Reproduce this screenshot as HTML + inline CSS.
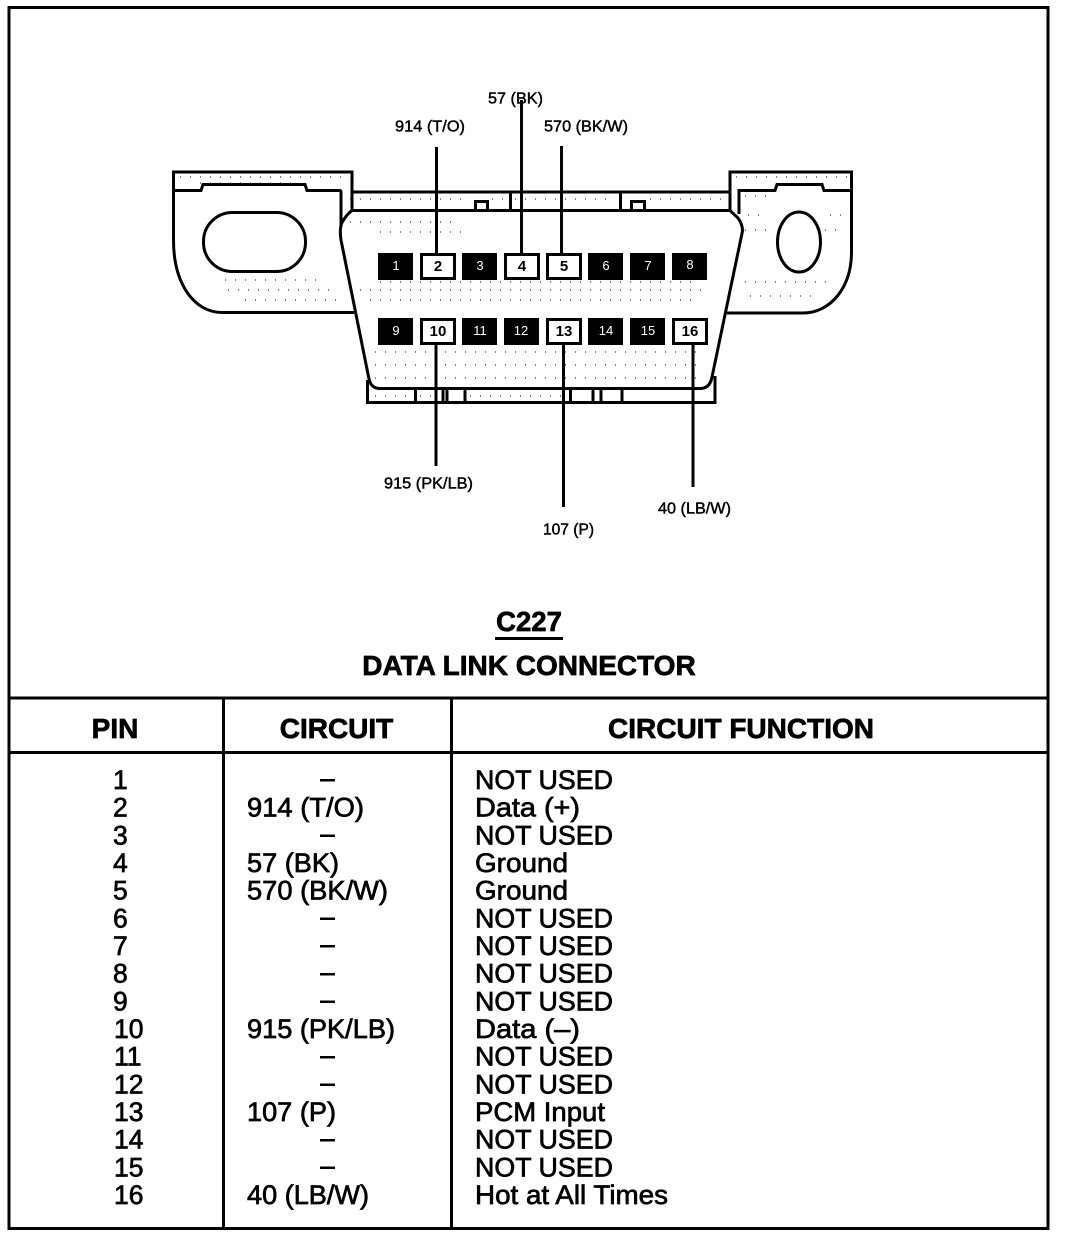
<!DOCTYPE html>
<html><head><meta charset="utf-8">
<style>
html,body{margin:0;padding:0;background:#fff;width:1072px;height:1238px;overflow:hidden}
svg{display:block}
text{font-family:"Liberation Sans",sans-serif;fill:#000}
.l{font-size:16px;stroke:#000;stroke-width:.45}
.t{font-size:26.5px;stroke:#000;stroke-width:.7}
.h{font-size:28px;font-weight:bold;stroke:#000;stroke-width:.7;text-anchor:middle}
.pw{font-size:15px;font-weight:bold;text-anchor:middle}
.pb{font-size:13px;fill:#fff;text-anchor:middle}
.k{fill:none;stroke:#000;stroke-width:3}
.d2{fill:none;stroke:#000;stroke-width:1;stroke-dasharray:1 9}
</style></head><body>
<svg width="1072" height="1238" viewBox="0 0 1072 1238" xmlns="http://www.w3.org/2000/svg">
<rect width="1072" height="1238" fill="#fff"/>

<!-- Frame and table lines -->
<rect x="9" y="7.500" width="1039" height="1221" class="k"/>
<path d="M9 698H1048M9 752.500H1048M223.500 698V1229M451.500 698V1229" class="k"/>

<!-- Stipple -->
<g>
<path d="M180 177H346M200 183H300M350 199H470M492 199H505M515 199H615M650 199H728M736 177H848M745 196H770" class="d2"/>
<path d="M225 280H320M228 290H330M245 300H340M350 222H460M380 232H470M350 290H710M370 300H700M375 352H700M375 365H700M375 378H700M745 282H830M750 296H820M748 215H760M830 215H845M745 230H770M825 230H845" class="d2"/>
<path d="M380 282H700M375 396H410M420 396H440M470 396H565" class="d2"/>
</g>

<!-- Left ear -->
<path d="M352 212V172H173.500V240C173.500 285 195 312.500 222 312.500H354" class="k"/>
<path d="M173 190.500H201L203 184.500H305L307 190.500H339.500Q341 190.500 341 192V227" class="k"/>
<rect x="203.500" y="212.500" width="102" height="59" rx="29" class="k"/>

<!-- Right ear -->
<path d="M730 212V172H851.500V252C851.500 288 830 313 803 313H727" class="k"/>
<path d="M739 214V190.500H775L777 184.500H822L824 190.500H851" class="k"/>
<ellipse cx="799" cy="242" rx="21.500" ry="30" class="k"/>

<!-- Top strip -->
<path d="M352 192H730M510.500 192V210M620.500 192V210" class="k"/>
<path d="M475.500 210V201.500H487.500V210M631.500 210V201.500H644.500V210" class="k"/>

<!-- Connector body -->
<path d="M352 210.500H730L738 218Q742.500 224 742.500 231L712 377Q710 388 701 388.500H379Q371 388 369 379L341 240Q339 226 343 221Q347 214 352 210.500Z" class="k"/>

<!-- Bottom strip -->
<path d="M367.500 380V402.500H715V376M415.500 388V402.500M443 388V402.500M447 388V402.500M465 388V402.500M570.500 388V402.500M593 388V402.500M601 388V402.500M622 388V402.500" class="k"/>

<!-- Wires -->
<g stroke="#000" stroke-width="3" fill="none">
<path d="M436.500 147V254M521.500 100V254M561.500 146V254M436 345V466M563.500 345V507M693 345V487"/>
</g>

<!-- Pins top row -->
<g>
<rect x="378" y="253" width="35" height="27" fill="#000"/>
<rect x="421.500" y="254.500" width="33" height="24" fill="#fff" stroke="#000" stroke-width="3"/>
<rect x="462" y="253" width="35" height="27" fill="#000"/>
<rect x="505.500" y="254.500" width="33" height="24" fill="#fff" stroke="#000" stroke-width="3"/>
<rect x="547.500" y="254.500" width="33" height="24" fill="#fff" stroke="#000" stroke-width="3"/>
<rect x="588" y="253" width="35" height="27" fill="#000"/>
<rect x="630" y="253" width="35" height="27" fill="#000"/>
<rect x="672" y="253" width="35" height="27" fill="#000"/>
<text x="396" y="270" class="pb">1</text>
<text x="438" y="271" class="pw">2</text>
<text x="480" y="270" class="pb">3</text>
<text x="522" y="271" class="pw">4</text>
<text x="564" y="271" class="pw">5</text>
<text x="606" y="270" class="pb">6</text>
<text x="648" y="270" class="pb">7</text>
<text x="690" y="269" class="pb">8</text>
</g>

<!-- Pins bottom row -->
<g>
<rect x="378" y="318" width="35" height="27" fill="#000"/>
<rect x="421.500" y="319.500" width="33" height="24" fill="#fff" stroke="#000" stroke-width="3"/>
<rect x="462" y="318" width="35" height="27" fill="#000"/>
<rect x="504" y="318" width="35" height="27" fill="#000"/>
<rect x="547.500" y="319.500" width="33" height="24" fill="#fff" stroke="#000" stroke-width="3"/>
<rect x="588" y="318" width="35" height="27" fill="#000"/>
<rect x="630" y="318" width="35" height="27" fill="#000"/>
<rect x="673.500" y="319.500" width="33" height="24" fill="#fff" stroke="#000" stroke-width="3"/>
<text x="396" y="335" class="pb">9</text>
<text x="438" y="336" class="pw">10</text>
<text x="480" y="335" class="pb">11</text>
<text x="521" y="335" class="pb">12</text>
<text x="564" y="336" class="pw">13</text>
<text x="606" y="335" class="pb">14</text>
<text x="648" y="335" class="pb">15</text>
<text x="690" y="336" class="pw">16</text>
</g>

<!-- Wire labels -->
<text x="488" y="103.500" class="l" textLength="55" lengthAdjust="spacingAndGlyphs">57 (BK)</text>
<text x="395" y="131.500" class="l" textLength="70" lengthAdjust="spacingAndGlyphs">914 (T/O)</text>
<text x="544" y="131.500" class="l" textLength="84" lengthAdjust="spacingAndGlyphs">570 (BK/W)</text>
<text x="384" y="488.500" class="l" textLength="89" lengthAdjust="spacingAndGlyphs">915 (PK/LB)</text>
<text x="543" y="534.500" class="l" textLength="51" lengthAdjust="spacingAndGlyphs">107 (P)</text>
<text x="658" y="513.500" class="l" textLength="73" lengthAdjust="spacingAndGlyphs">40 (LB/W)</text>

<!-- Title -->
<text x="529" y="631" class="h" style="font-size:27.500px">C227</text>
<rect x="495" y="637" width="68" height="3" fill="#000"/>
<text x="529" y="675" class="h">DATA LINK CONNECTOR</text>

<!-- Header -->
<text x="115" y="738" class="h">PIN</text>
<text x="336.500" y="738" class="h">CIRCUIT</text>
<text x="741" y="738" class="h">CIRCUIT FUNCTION</text>

<!-- PIN column -->
<g class="t">
<text x="113" y="789">1</text>
<text x="113" y="816.700">2</text>
<text x="113" y="844.300">3</text>
<text x="113" y="872">4</text>
<text x="113" y="899.700">5</text>
<text x="113" y="927.300">6</text>
<text x="113" y="955">7</text>
<text x="113" y="982.700">8</text>
<text x="113" y="1010.300">9</text>
<text x="114" y="1038">10</text>
<text x="114" y="1065.700">11</text>
<text x="114" y="1093.300">12</text>
<text x="114" y="1121">13</text>
<text x="114" y="1148.700">14</text>
<text x="114" y="1176.300">15</text>
<text x="114" y="1204">16</text>
</g>

<!-- CIRCUIT column -->
<g class="t">
<text x="247" y="816.700" textLength="117" lengthAdjust="spacingAndGlyphs">914 (T/O)</text>
<text x="247" y="872" textLength="92" lengthAdjust="spacingAndGlyphs">57 (BK)</text>
<text x="247" y="899.700" textLength="141" lengthAdjust="spacingAndGlyphs">570 (BK/W)</text>
<text x="247" y="1038" textLength="148" lengthAdjust="spacingAndGlyphs">915 (PK/LB)</text>
<text x="247" y="1121" textLength="89" lengthAdjust="spacingAndGlyphs">107 (P)</text>
<text x="247" y="1204" textLength="122" lengthAdjust="spacingAndGlyphs">40 (LB/W)</text>
</g>
<g fill="#000">
<rect x="320" y="779" width="15" height="2.500"/>
<rect x="320" y="834.500" width="15" height="2.500"/>
<rect x="320" y="917.500" width="15" height="2.500"/>
<rect x="320" y="945" width="15" height="2.500"/>
<rect x="320" y="973" width="15" height="2.500"/>
<rect x="320" y="1000.500" width="15" height="2.500"/>
<rect x="320" y="1056" width="15" height="2.500"/>
<rect x="320" y="1083.500" width="15" height="2.500"/>
<rect x="320" y="1139" width="15" height="2.500"/>
<rect x="320" y="1166.500" width="15" height="2.500"/>
</g>

<!-- FUNCTION column -->
<g class="t">
<text x="475" y="789" textLength="138" lengthAdjust="spacingAndGlyphs">NOT USED</text>
<text x="475" y="816.700" textLength="105" lengthAdjust="spacingAndGlyphs">Data (+)</text>
<text x="475" y="844.300" textLength="138" lengthAdjust="spacingAndGlyphs">NOT USED</text>
<text x="475" y="872" textLength="93" lengthAdjust="spacingAndGlyphs">Ground</text>
<text x="475" y="899.700" textLength="93" lengthAdjust="spacingAndGlyphs">Ground</text>
<text x="475" y="927.300" textLength="138" lengthAdjust="spacingAndGlyphs">NOT USED</text>
<text x="475" y="955" textLength="138" lengthAdjust="spacingAndGlyphs">NOT USED</text>
<text x="475" y="982.700" textLength="138" lengthAdjust="spacingAndGlyphs">NOT USED</text>
<text x="475" y="1010.300" textLength="138" lengthAdjust="spacingAndGlyphs">NOT USED</text>
<text x="475" y="1038" textLength="105" lengthAdjust="spacingAndGlyphs">Data (–)</text>
<text x="475" y="1065.700" textLength="138" lengthAdjust="spacingAndGlyphs">NOT USED</text>
<text x="475" y="1093.300" textLength="138" lengthAdjust="spacingAndGlyphs">NOT USED</text>
<text x="475" y="1121" textLength="130" lengthAdjust="spacingAndGlyphs">PCM Input</text>
<text x="475" y="1148.700" textLength="138" lengthAdjust="spacingAndGlyphs">NOT USED</text>
<text x="475" y="1176.300" textLength="138" lengthAdjust="spacingAndGlyphs">NOT USED</text>
<text x="475" y="1204" textLength="193" lengthAdjust="spacingAndGlyphs">Hot at All Times</text>
</g>
</svg>
</body></html>
